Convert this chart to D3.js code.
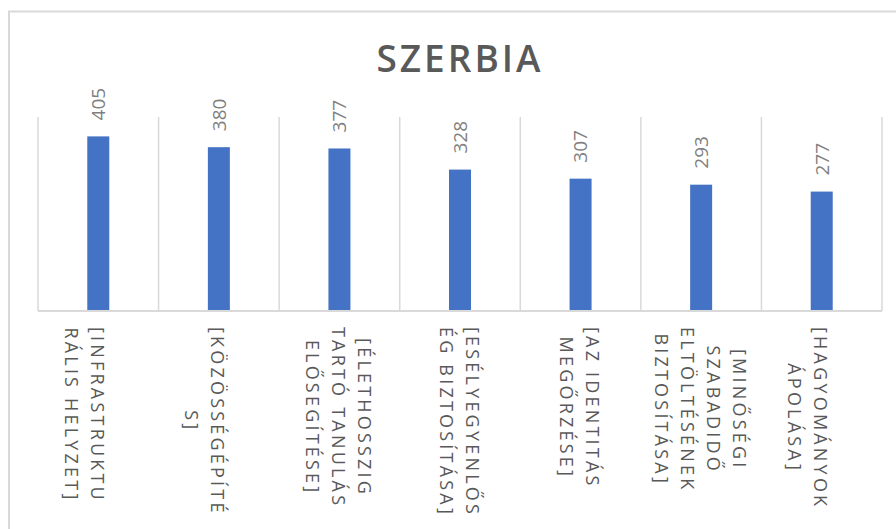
<!DOCTYPE html>
<html>
<head>
<meta charset="utf-8">
<script src="https://cdn.jsdelivr.net/npm/d3@7"></script>
<style>
  html, body { margin: 0; padding: 0; background: #fff; }
  svg { display: block; }
  text { font-family: "Open Sans", "Noto Sans", sans-serif; }
</style>
</head>
<body>
<svg id="chart" width="896" height="529"></svg>
<script>
// ---- data ----
const title = "SZERBIA";
const categories = [
  "[INFRASTRUKTURÁLIS HELYZET]",
  "[KÖZÖSSÉGÉPÍTÉS]",
  "[ÉLETHOSSZIG TARTÓ TANULÁS ELŐSEGÍTÉSE]",
  "[ESÉLYEGYENLŐSÉG BIZTOSÍTÁSA]",
  "[AZ IDENTITÁS MEGŐRZÉSE]",
  "[MINŐSÉGI SZABADIDŐ ELTÖLTÉSÉNEK BIZTOSÍTÁSA]",
  "[HAGYOMÁNYOK ÁPOLÁSA]"
];
// wrapped label lines as shown in the picture (leading "" = empty first line)
const categoryLines = [
  ["", "[INFRASTRUKTU", "RÁLIS HELYZET]"],
  ["", "[KÖZÖSSÉGÉPÍTÉ", "S]"],
  ["[ÉLETHOSSZIG", "TARTÓ TANULÁS", "ELŐSEGÍTÉSE]"],
  ["[ESÉLYEGYENLŐS", "ÉG BIZTOSÍTÁSA]"],
  ["[AZ IDENTITÁS", "MEGŐRZÉSE]"],
  ["[MINŐSÉGI", "SZABADIDŐ", "ELTÖLTÉSÉNEK", "BIZTOSÍTÁSA]"],
  ["", "[HAGYOMÁNYOK", "ÁPOLÁSA]"]
];
const values = [405, 380, 377, 328, 307, 293, 277];
const yDomain = [0, 450];

// ---- layout ----
const svg = d3.select("#chart");
const plot = { left: 38, right: 882, top: 117, bottom: 311 };
const barColor = "#4472c4";
const gridColor = "#d9d9d9";

// chart border (extends beyond the visible window on the right/bottom)
svg.append("rect")
  .attr("x", 9).attr("y", 11.5)
  .attr("width", 1000).attr("height", 1000)
  .attr("fill", "none")
  .attr("stroke", gridColor)
  .attr("stroke-width", 2);

const x = d3.scaleBand()
  .domain(categories)
  .range([plot.left, plot.right]);
const pad = 1 - 22 / x.step();
x.paddingInner(pad).paddingOuter(pad / 2);

const y = d3.scaleLinear().domain(yDomain).range([plot.bottom, plot.top]);

// category separator gridlines
const bounds = categories.map(c => x(c) - x.step() * x.paddingOuter());
bounds.push(plot.right);
svg.append("g").selectAll("line")
  .data(bounds)
  .join("line")
  .attr("x1", d => d).attr("x2", d => d)
  .attr("y1", plot.top).attr("y2", plot.bottom)
  .attr("stroke", gridColor)
  .attr("stroke-width", 1.5);

// bars
svg.append("g").selectAll("rect")
  .data(values)
  .join("rect")
  .attr("x", (d, i) => x(categories[i]))
  .attr("y", d => y(d))
  .attr("width", x.bandwidth())
  .attr("height", d => y(0) - y(d))
  .attr("fill", barColor);

// axis line
svg.append("line")
  .attr("x1", plot.left).attr("x2", plot.right)
  .attr("y1", plot.bottom).attr("y2", plot.bottom)
  .attr("stroke", gridColor)
  .attr("stroke-width", 2);

// value labels (rotated)
svg.append("g").selectAll("text")
  .data(values)
  .join("text")
  .attr("transform", (d, i) => {
    const cx = x(categories[i]) + x.bandwidth() / 2;
    return `translate(${cx},${y(d) - 16}) rotate(-90)`;
  })
  .attr("dy", "0.36em")
  .attr("text-anchor", "start")
  .attr("font-size", 19)
  .attr("fill", "#7f7f7f")
  .text(d => d);

// category labels (rotated 90°, wrapped lines)
const lineStep = 26;
const labelTop = 327;
const catG = svg.append("g");
categoryLines.forEach((lines, i) => {
  const cx = x(categories[i]) + x.bandwidth() / 2 - 1;
  const g = catG.append("g")
    .attr("transform", `translate(${cx},${labelTop}) rotate(90)`);
  const n = lines.length;
  const texts = g.selectAll("text")
    .data(lines)
    .join("text")
    .attr("y", (d, j) => (j - (n - 1) / 2) * lineStep)
    .attr("dy", "0.36em")
    .attr("font-size", 18)
    .attr("letter-spacing", "3.2px")
    .attr("fill", "#595959")
    .text(d => d);
  let maxLen = 0;
  texts.each(function () { maxLen = Math.max(maxLen, this.getComputedTextLength()); });
  texts.attr("x", maxLen / 2).attr("text-anchor", "middle");
});

// title
svg.append("text")
  .attr("x", 460)
  .attr("y", 71.5)
  .attr("text-anchor", "middle")
  .attr("font-size", 37)
  .attr("font-weight", 600)
  .attr("letter-spacing", "3px")
  .attr("fill", "#595959")
  .text(title);
</script>
</body>
</html>
